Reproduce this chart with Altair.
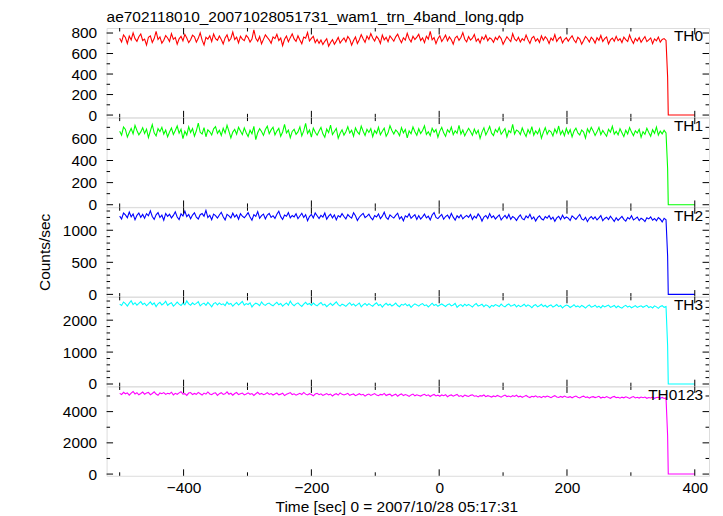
import altair as alt
import pandas as pd

FONT = "Liberation Sans"
TITLE = "ae702118010_20071028051731_wam1_trn_4band_long.qdp"
XTITLE = "Time [sec] 0 = 2007/10/28 05:17:31"
YTITLE = "Counts/sec"

# time bins (sec), then the drop at the end of the data
T_GRID = list(range(-500, 356, 3))
T_TAIL = [357.5, 358.5, 400]
TIME = T_GRID + T_TAIL

TH0 = [748, 712, 781, 756, 698, 770, 733, 801, 745, 719, 764, 790, 727,
       741, 683, 759, 772, 708, 746, 815, 737, 762, 701, 729, 776, 752,
       718, 794, 739, 757, 690, 743, 768, 724, 787, 751, 706, 735, 779,
       763, 711, 748, 802, 730, 684, 758, 741, 773, 716, 790, 744, 729,
       771, 737, 694, 752, 783, 722, 747, 809, 736, 760, 703, 768, 740,
       725, 778, 756, 712, 741, 830, 749, 719, 766, 695, 738, 782, 757,
       734, 700, 762, 745, 788, 727, 751, 676, 739, 771, 714, 755, 792,
       743, 718, 773, 731, 696, 760, 749, 805, 722, 748, 767, 706, 738,
       699, 732, 687, 719, 745, 672, 708, 736, 690, 721, 757, 703, 729,
       752, 714, 766, 740, 681, 727, 761, 698, 735, 784, 744, 709, 770,
       738, 795, 751, 722, 767, 743, 699, 781, 734, 758, 716, 772, 747,
       720, 763, 789, 741, 705, 754, 731, 798, 744, 712, 768, 736, 760,
       787, 727, 753, 706, 769, 741, 817, 733, 756, 697, 745, 774, 718,
       746, 779, 723, 762, 735, 691, 752, 770, 728, 757, 804, 739, 714,
       765, 731, 749, 786, 720, 744, 702, 761, 737, 778, 725, 753, 740,
       709, 757, 734, 771, 746, 690, 727, 764, 739, 716, 793, 742, 723,
       758, 712, 745, 726, 780, 735, 699, 751, 767, 721, 744, 708, 772,
       730, 764, 742, 697, 750, 728, 785, 718, 747, 761, 704, 736, 755,
       721, 749, 773, 732, 706, 758, 740, 691, 727, 766, 744, 713, 759,
       738, 702, 754, 729, 776, 717, 745, 762, 694, 733, 751, 720, 768,
       726, 744, 707, 760, 735, 718, 781, 731, 699, 748, 722, 757, 710,
       739, 765, 716, 734, 752, 697, 743, 724, 761, 711, 737, 746, 728,
       370, 0, 0]

TH1 = [665, 629, 703, 681, 612, 654, 690, 641, 718, 672, 633, 659, 697,
       645, 684, 608, 667, 725, 650, 622, 688, 661, 700, 639, 676, 614,
       658, 694, 636, 671, 712, 647, 683, 598, 664, 630, 705, 653, 689,
       621, 669, 738, 655, 640, 697, 615, 678, 660, 631, 686, 707, 646,
       673, 626, 691, 648, 719, 663, 604, 657, 682, 638, 701, 667, 634,
       695, 651, 617, 674, 642, 709, 589, 652, 688, 662, 627, 680, 711,
       643, 677, 701, 632, 666, 691, 619, 658, 726, 649, 675, 606, 663,
       682, 637, 659, 704, 623, 668, 735, 645, 676, 612, 693, 656, 629,
       667, 699, 641, 610, 684, 653, 720, 635, 662, 690, 601, 647, 678,
       630, 661, 706, 648, 674, 620, 695, 659, 638, 711, 665, 627, 683,
       654, 689, 616, 671, 645, 700, 633, 664, 693, 619, 650, 715, 672,
       639, 676, 658, 624, 697, 650, 681, 605, 668, 642, 703, 661, 628,
       687, 644, 672, 713, 636, 660, 625, 692, 657, 680, 611, 666, 699,
       650, 618, 679, 655, 702, 633, 669, 646, 717, 640, 676, 623, 659,
       691, 662, 628, 684, 643, 674, 600, 657, 695, 631, 668, 708, 647,
       626, 681, 656, 699, 637, 663, 689, 614, 671, 652, 727, 640, 675,
       664, 635, 694, 651, 618, 680, 645, 706, 629, 667, 641, 686, 602,
       655, 697, 638, 673, 660, 622, 684, 648, 712, 636, 670, 625, 690,
       642, 679, 614, 666, 693, 649, 631, 676, 658, 603, 687, 653, 701,
       668, 627, 659, 700, 634, 672, 645, 619, 683, 656, 710, 638, 664,
       632, 688, 651, 616, 674, 640, 698, 657, 625, 669, 648, 682, 610,
       661, 637, 692, 654, 620, 678, 646, 703, 630, 666, 641, 673, 650,
       330, 0, 0]

TH2 = [1221, 1176, 1268, 1239, 1195, 1284, 1210, 1253, 1163, 1232, 1270, 1201, 1247,
       1188, 1259, 1226, 1302, 1214, 1170, 1241, 1276, 1199, 1235, 1156, 1262, 1218,
       1249, 1192, 1231, 1287, 1207, 1166, 1255, 1224, 1298, 1213, 1246, 1181, 1237,
       1271, 1203, 1176, 1243, 1260, 1218, 1310, 1197, 1234, 1165, 1251, 1229, 1189,
       1238, 1280, 1211, 1162, 1247, 1225, 1193, 1266, 1205, 1241, 1173, 1258, 1219,
       1195, 1233, 1274, 1208, 1157, 1244, 1216, 1290, 1187, 1229, 1252, 1178, 1236,
       1263, 1201, 1227, 1185, 1249, 1296, 1212, 1168, 1238, 1220, 1275, 1194, 1230,
       1209, 1257, 1180, 1222, 1265, 1199, 1243, 1150, 1214, 1248, 1191, 1270, 1226,
       1184, 1232, 1206, 1268, 1172, 1219, 1251, 1193, 1240, 1161, 1228, 1205, 1259,
       1215, 1177, 1245, 1212, 1189, 1273, 1227, 1153, 1203, 1236, 1264, 1198, 1221,
       1250, 1196, 1163, 1230, 1207, 1255, 1182, 1219, 1281, 1200, 1171, 1239, 1213,
       1190, 1233, 1266, 1178, 1211, 1147, 1224, 1202, 1257, 1186, 1216, 1243, 1168,
       1229, 1174, 1208, 1252, 1193, 1220, 1160, 1238, 1276, 1199, 1181, 1215, 1246,
       1172, 1214, 1237, 1185, 1263, 1204, 1158, 1226, 1195, 1241, 1177, 1209, 1232,
       1201, 1248, 1167, 1219, 1190, 1255, 1213, 1143, 1206, 1229, 1183, 1260, 1196,
       1223, 1176, 1210, 1240, 1162, 1199, 1232, 1185, 1247, 1170, 1214, 1193, 1153,
       1205, 1239, 1181, 1164, 1222, 1192, 1250, 1175, 1208, 1145, 1197, 1226, 1179,
       1160, 1212, 1187, 1230, 1171, 1203, 1140, 1193, 1218, 1166, 1235, 1182, 1207,
       1189, 1152, 1224, 1198, 1169, 1211, 1246, 1177, 1158, 1201, 1134, 1186, 1214,
       1173, 1208, 1161, 1192, 1229, 1148, 1184, 1203, 1167, 1220, 1179, 1138, 1196,
       1155, 1187, 1216, 1170, 1143, 1199, 1176, 1226, 1162, 1181, 1205, 1151, 1188,
       1168, 1135, 1194, 1177, 1209, 1157, 1183, 1146, 1198, 1172, 1130, 1186, 1163,
       600, 0, 0]

TH3 = [2502, 2461, 2567, 2518, 2440, 2533, 2611, 2489, 2547, 2472, 2525, 2583, 2494,
       2530, 2451, 2508, 2572, 2486, 2539, 2425, 2513, 2560, 2479, 2521, 2593, 2467,
       2516, 2548, 2443, 2497, 2565, 2505, 2459, 2536, 2482, 2604, 2511, 2470, 2544,
       2488, 2527, 2579, 2448, 2503, 2535, 2466, 2557, 2493, 2420, 2519, 2550, 2476,
       2541, 2485, 2512, 2458, 2569, 2499, 2526, 2437, 2504, 2551, 2474, 2531, 2588,
       2469, 2520, 2492, 2544, 2415, 2487, 2532, 2508, 2456, 2573, 2495, 2462, 2517,
       2538, 2481, 2450, 2510, 2558, 2484, 2523, 2442, 2496, 2540, 2471, 2598, 2500,
       2455, 2512, 2543, 2477, 2430, 2505, 2561, 2490, 2522, 2464, 2535, 2483, 2448,
       2509, 2553, 2470, 2498, 2426, 2481, 2529, 2460, 2515, 2574, 2486, 2441, 2503,
       2476, 2432, 2495, 2548, 2467, 2511, 2447, 2489, 2535, 2418, 2480, 2524, 2463,
       2519, 2472, 2438, 2501, 2545, 2458, 2490, 2409, 2477, 2530, 2469, 2506, 2444,
       2485, 2537, 2461, 2423, 2496, 2471, 2518, 2450, 2488, 2401, 2465, 2512, 2479,
       2441, 2493, 2520, 2456, 2482, 2415, 2470, 2531, 2462, 2497, 2436, 2477, 2508,
       2468, 2429, 2486, 2513, 2447, 2475, 2526, 2404, 2459, 2490, 2433, 2502, 2451,
       2494, 2457, 2412, 2479, 2521, 2443, 2469, 2498, 2426, 2481, 2454, 2395, 2466,
       2437, 2488, 2460, 2427, 2503, 2449, 2415, 2474, 2509, 2440, 2463, 2492, 2418,
       2471, 2423, 2455, 2499, 2432, 2480, 2446, 2389, 2458, 2487, 2420, 2452, 2496,
       2429, 2466, 2407, 2450, 2478, 2413, 2444, 2491, 2425, 2459, 2386, 2438, 2474,
       2452, 2398, 2435, 2485, 2419, 2448, 2402, 2463, 2430, 2380, 2441, 2476, 2411,
       2426, 2469, 2405, 2439, 2384, 2457, 2416, 2447, 2473, 2400, 2432, 2461, 2393,
       2445, 2408, 2377, 2434, 2466, 2412, 2443, 2390, 2421, 2458, 2399, 2428, 2452,
       2404, 2437, 2465, 2396, 2425, 2383, 2449, 2418, 2372, 2431, 2455, 2401, 2424,
       1200, 0, 0]

TH0123 = [5168, 5092, 5236, 5141, 5204, 5057, 5182, 5290, 5133, 5209, 5078, 5157, 5251,
          5114, 5189, 5226, 5083, 5162, 5270, 5128, 5046, 5195, 5149, 5217, 5101, 5177,
          5136, 5243, 5068, 5170, 5112, 5198, 5276, 5125, 5153, 5039, 5188, 5221, 5095,
          5164, 5107, 5230, 5146, 5062, 5185, 5119, 5257, 5131, 5088, 5173, 5205, 5042,
          5150, 5212, 5098, 5138, 5264, 5115, 5176, 5049, 5160, 5222, 5093, 5141, 5187,
          5071, 5129, 5200, 5110, 5156, 5033, 5142, 5239, 5102, 5167, 5084, 5126, 5214,
          5099, 5158, 5061, 5134, 5192, 5077, 5120, 5181, 5026, 5106, 5163, 5218, 5089,
          5137, 5052, 5112, 5175, 5096, 5230, 5118, 5066, 5147, 5093, 5012, 5124, 5170,
          5082, 5140, 5038, 5101, 5159, 5074, 5123, 4998, 5090, 5145, 5056, 5197, 5107,
          5063, 5119, 5172, 5045, 5094, 5130, 5020, 5085, 5148, 5067, 5111, 4990, 5078,
          5126, 5040, 5097, 5153, 5059, 5016, 5104, 5071, 5166, 5034, 5088, 5121, 5001,
          5058, 5113, 4985, 5075, 5132, 5027, 5092, 5050, 4972, 5069, 5125, 5010, 5081,
          5037, 4994, 5063, 5109, 5018, 5076, 4968, 5044, 5098, 5005, 5055, 4981, 5072,
          5021, 5085, 4956, 5032, 5067, 4990, 5048, 5103, 4975, 5029, 4950, 5061, 5008,
          4967, 5040, 5079, 4983, 5012, 4941, 5026, 4997, 5064, 4958, 5019, 4986, 4930,
          5003, 4952, 5035, 4979, 4921, 5007, 5058, 4965, 4999, 4937, 5024, 4970, 5046,
          4944, 4991, 4915, 4976, 5033, 4958, 4903, 4985, 4949, 5014, 4926, 4962, 4897,
          4980, 4932, 5001, 4954, 4889, 4968, 5022, 4940, 4907, 4973, 4919, 4995, 4938,
          4913, 4960, 4885, 4947, 4997, 4924, 4876, 4952, 4990, 4909, 4942, 4866, 4931,
          4958, 4898, 4937, 4979, 4871, 4925, 4891, 4966, 4904, 4853, 4933, 4972, 4895,
          4917, 4859, 4928, 4884, 4949, 4901, 4842, 4913, 4962, 4877, 4920, 4868, 4936,
          4889, 4935, 4852, 4906, 4871, 4930, 4848, 4899, 4921, 4862, 4910, 4839, 4880,
          2450, 0, 0]

NAMES = ["TH0", "TH1", "TH2", "TH3", "TH0123"]
SERIES = [TH0, TH1, TH2, TH3, TH0123]
COLORS = ["#ff0000", "#00ff00", "#0000ff", "#00ffff", "#ff00ff"]
Y_DOMAINS = [[-22, 849], [-20, 788], [-34, 1359], [-68, 2731], [-110, 5610]]
Y_MAJOR = [[0, 200, 400, 600, 800], [0, 200, 400, 600], [0, 500, 1000],
           [0, 1000, 2000], [0, 2000, 4000]]
Y_MINOR = [[100, 300, 500, 700], [100, 300, 500, 700],
           [100, 200, 300, 400, 600, 700, 800, 900, 1100, 1200, 1300],
           [200, 400, 600, 800, 1200, 1400, 1600, 1800, 2200, 2400, 2600],
           [1000, 3000, 5000]]
X_DOMAIN = [-520.5, 422.3]
X_MAJOR = [-400, -200, 0, 200, 400]
X_MINOR = [-500, -300, -100, 100, 300]

W = 605
H = 89.7
FS = 15.5
MAJ = 6.5
MIN = 3.5


def panel(k):
    last = k == len(NAMES) - 1
    xs = alt.Scale(domain=X_DOMAIN, nice=False, zero=False)
    ys = alt.Scale(domain=Y_DOMAINS[k], nice=False, zero=False)
    if last:
        xaxis = alt.Axis(values=X_MAJOR, format="d", ticks=False, tickSize=0, domain=False,
                         grid=False, labelFontSize=FS, labelPadding=5, labelColor="black",
                         labelFont=FONT, title=XTITLE, titleFont=FONT, titleFontSize=FS,
                         titleFontWeight="normal", titleColor="black",
                         titleX=291, titleY=31, titleBaseline="middle", titleAlign="center",
                         titleAnchor="start")
    else:
        xaxis = None
    yargs = dict(values=Y_MAJOR[k], format="d", ticks=False, tickSize=0, domain=False,
                 grid=False, labelFontSize=FS, labelPadding=10, labelColor="black",
                 labelFont=FONT)
    if k == 2:
        yaxis = alt.Axis(title=YTITLE, titleFont=FONT, titleFontSize=FS,
                         titleFontWeight="normal", titleColor="black",
                         titleX=-62, titleY=H / 2, titleAngle=270,
                         titleAlign="center", titleBaseline="middle", **yargs)
    else:
        yaxis = alt.Axis(title=None, **yargs)

    X = lambda: alt.X("t:Q", scale=xs, axis=xaxis)
    Y = lambda: alt.Y("v:Q", scale=ys, axis=yaxis)

    df = pd.DataFrame({"t": TIME, "v": SERIES[k]})
    layers = [alt.Chart(df).mark_line(color=COLORS[k], strokeWidth=1.1).encode(x=X(), y=Y())]

    for vals, ln in ((X_MAJOR, MAJ), (X_MINOR, MIN)):
        d = pd.DataFrame({"t": vals})
        layers.append(alt.Chart(d).mark_rule(color="black", strokeWidth=1).encode(
            x=X(), y=alt.value(0), y2=alt.value(ln)))
        layers.append(alt.Chart(d).mark_rule(color="black", strokeWidth=1).encode(
            x=X(), y=alt.value(H), y2=alt.value(H - ln)))
    for vals, ln in ((Y_MAJOR[k], MAJ), (Y_MINOR[k], MIN)):
        d = pd.DataFrame({"v": vals})
        layers.append(alt.Chart(d).mark_rule(color="black", strokeWidth=1).encode(
            y=Y(), x=alt.value(0), x2=alt.value(ln)))
        layers.append(alt.Chart(d).mark_rule(color="black", strokeWidth=1).encode(
            y=Y(), x=alt.value(W), x2=alt.value(W - ln)))

    lab = pd.DataFrame({"label": [NAMES[k]]})
    layers.append(alt.Chart(lab).mark_text(align="right", baseline="middle", fontSize=FS,
                                           font=FONT, color="black").encode(
        x=alt.value(W - 6), y=alt.value(8.5), text="label:N"))

    if k == 0:
        tt = pd.DataFrame({"label": [TITLE]})
        layers.append(alt.Chart(tt).mark_text(align="left", baseline="alphabetic", fontSize=FS,
                                              font=FONT, color="black").encode(
            x=alt.value(0), y=alt.value(-6), text="label:N"))

    return alt.layer(*layers).properties(width=W, height=H)


chart = alt.vconcat(*[panel(k) for k in range(len(NAMES))], spacing=0, bounds="flush").properties(
    padding={"left": 29, "top": 0, "right": 5, "bottom": 0}
).configure_view(stroke="black", strokeWidth=1).configure(background="white")

chart.save("out.html", embed_options={"renderer": "svg", "actions": False})
